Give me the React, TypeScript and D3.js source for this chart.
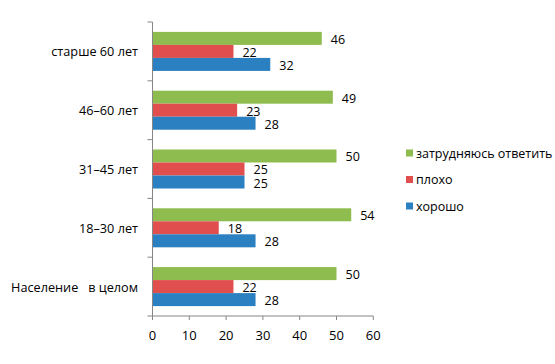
import { useRef, useEffect } from 'react';
import * as d3 from 'd3';

const categories = ['старше 60 лет', '46–60 лет', '31–45 лет', '18–30 лет', 'Население   в целом'];
const seriesNames = ['затрудняюсь ответить', 'плохо', 'хорошо'];
const hardToSay = [46, 49, 50, 54, 50];
const bad = [22, 23, 25, 18, 22];
const good = [32, 28, 25, 28, 28];
const xTicks = [0, 10, 20, 30, 40, 50, 60];
const colors = ['#8fbc4f', '#e04e4e', '#2a80c1'];

const App = () => {
  const svgRef = useRef<SVGSVGElement>(null);
  const width = 555;
  const height = 364;

  useEffect(() => {
    const svg = d3.select(svgRef.current);
    svg.selectAll('*').remove();

    const font = "'Open Sans', 'Noto Sans', sans-serif";
    const values = [hardToSay, bad, good];

    const x = d3.scaleLinear().domain([0, 60]).range([152.5, 373.3]);
    const y0 = d3.scaleBand().domain(categories).range([22, 316]).padding(0);
    const y1 = d3.scaleBand().domain(seriesNames)
      .range([0, y0.bandwidth()])
      .paddingInner(0)
      .paddingOuter(0.76);

    // bars + value labels
    categories.forEach((cat, ci) => {
      const g = svg.append('g').attr('transform', `translate(0,${y0(cat)})`);
      seriesNames.forEach((s, si) => {
        const v = values[si][ci];
        g.append('rect')
          .attr('x', x(0))
          .attr('y', y1(s)!)
          .attr('width', x(v) - x(0))
          .attr('height', y1.bandwidth())
          .attr('fill', colors[si]);
        g.append('text')
          .attr('x', x(v) + 9)
          .attr('y', y1(s)! + y1.bandwidth() / 2 + 1)
          .attr('dominant-baseline', 'central')
          .attr('font-family', font)
          .attr('font-size', '12.5px')
          .attr('fill', '#000')
          .text(v);
      });
    });

    // category axis
    const axisColor = '#868686';
    svg.append('line')
      .attr('x1', x(0)).attr('x2', x(0))
      .attr('y1', 22).attr('y2', 316)
      .attr('stroke', axisColor);
    const bounds = categories.map(c => y0(c)!).concat([316]);
    bounds.forEach(b => {
      svg.append('line')
        .attr('x1', x(0) - 5).attr('x2', x(0))
        .attr('y1', b).attr('y2', b)
        .attr('stroke', axisColor);
    });
    categories.forEach(c => {
      svg.append('text')
        .attr('x', 138)
        .attr('y', y0(c)! + y0.bandwidth() / 2)
        .attr('dominant-baseline', 'central')
        .attr('text-anchor', 'end')
        .attr('font-family', font)
        .attr('font-size', '12.7px')
        .style('white-space', 'pre')
        .text(c);
    });

    // value axis
    svg.append('line')
      .attr('x1', x(0)).attr('x2', x(60))
      .attr('y1', 316).attr('y2', 316)
      .attr('stroke', axisColor);
    xTicks.forEach(t => {
      svg.append('line')
        .attr('x1', x(t)).attr('x2', x(t))
        .attr('y1', 316).attr('y2', 320)
        .attr('stroke', axisColor);
      svg.append('text')
        .attr('x', x(t))
        .attr('y', 335)
        .attr('dominant-baseline', 'central')
        .attr('text-anchor', 'middle')
        .attr('font-family', font)
        .attr('font-size', '13px')
        .text(t);
    });

    // legend
    seriesNames.forEach((s, i) => {
      const ly = 153 + i * 26.5;
      svg.append('rect')
        .attr('x', 406).attr('y', ly - 3.5)
        .attr('width', 7).attr('height', 7)
        .attr('fill', colors[i]);
      svg.append('text')
        .attr('x', 416).attr('y', ly)
        .attr('dominant-baseline', 'central')
        .attr('font-family', font)
        .attr('font-size', '12.5px')
        .text(s);
    });
  }, []);

  return (
    <svg
      ref={svgRef}
      width={width}
      height={height}
      style={{ position: 'absolute', left: 0, top: 0, background: '#fff' }}
    ></svg>
  );
};

export default App;
